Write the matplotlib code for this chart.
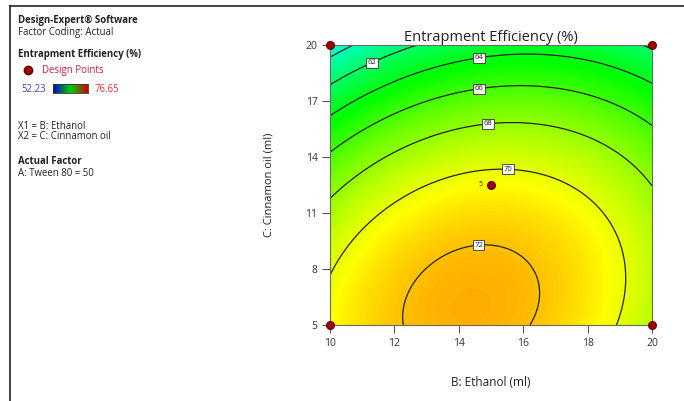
import matplotlib
matplotlib.use('Agg')
import matplotlib.pyplot as plt
import numpy as np
from matplotlib.colors import LinearSegmentedColormap
from matplotlib.lines import Line2D

plt.rcParams['font.family'] = ['Open Sans', 'DejaVu Sans']

W, H = 684, 401

# Quadratic model, coded factors X = (ethanol - 15) / 5, Y = (oil - 12.5) / 7.5
B0 = 70.54
B_X = 0.25
B_Y = -4.58
B_XY = 1.10
B_XX = -2.81
B_YY = -2.75

ETHANOL_RANGE = [10, 20]
OIL_RANGE = [5, 20]
X_TICKS = [10, 12, 14, 16, 18, 20]
Y_TICKS = [5, 8, 11, 14, 17, 20]
LEVELS = [60, 62, 64, 66, 68, 70, 72]
LABEL_POS = [(11.24, 19.3), (14.6, 19.57), (14.6, 17.96), (14.9, 16.04), (15.53, 13.63), (14.6, 9.55)]

EE_MIN, EE_MAX = 52.23, 76.65

pts_x = [10, 10, 20, 20, 15]
pts_y = [5, 20, 5, 20, 12.5]
CENTER_REPS = 5

cmap = LinearSegmentedColormap.from_list(
    'de', [(0, '#0000ff'), (0.25, '#00ffff'), (0.5, '#00ff00'), (0.75, '#ffff00'), (1, '#ff0000')])


def model(x, y):
    X = (x - 15) / 5
    Y = (y - 12.5) / 7.5
    return B0 + B_X * X + B_Y * Y + B_XY * X * Y + B_XX * X ** 2 + B_YY * Y ** 2


def fx(px):
    return px / W


def fy(py):
    return 1 - py / H


fig = plt.figure(figsize=(W / 100, H / 100), dpi=100)

ax = fig.add_axes([fx(330), fy(325), (652 - 330) / W, (325 - 45) / H])
xs = np.linspace(*ETHANOL_RANGE, 300)
ys = np.linspace(*OIL_RANGE, 300)
gx, gy = np.meshgrid(xs, ys)
z = model(gx, gy)

ax.pcolormesh(gx, gy, z, cmap=cmap, vmin=EE_MIN, vmax=EE_MAX, shading='gouraud')
cs = ax.contour(gx, gy, z, levels=LEVELS, colors='#222222', linewidths=0.9)
lbls = ax.clabel(cs, manual=LABEL_POS, inline=False, fontsize=5.5, fmt='%d', colors='#222222')
for t in lbls:
    t.set_bbox(dict(boxstyle='square,pad=0.2', fc='white', ec='#333333', lw=0.6))
    t.set_rotation(0)

ax.plot(pts_x, pts_y, 'o', ms=5.5, color='#a00000', mec='#700000', clip_on=False, zorder=5)
ax.text(pts_x[-1] - 0.25, pts_y[-1], str(CENTER_REPS), fontsize=5, ha='right', va='center', color='#333333')

ax.set_xlim(ETHANOL_RANGE)
ax.set_ylim(OIL_RANGE)
ax.set_xticks(X_TICKS)
ax.set_yticks(Y_TICKS)
ax.tick_params(length=6, width=0.8, color='#555555', labelsize=7.5, labelcolor='#333333', pad=3)
for s in ax.spines.values():
    s.set_color('#6a6a6a')
    s.set_linewidth(0.8)

ax.set_title('Entrapment Efficiency (%)', fontsize=10.5, color='#222222', pad=3)
ax.set_xlabel('B: Ethanol (ml)', fontsize=8.5, color='#222222', labelpad=20)
ax.set_ylabel('C: Cinnamon oil (ml)', fontsize=8, color='#222222', labelpad=22)

# frame lines
fig.add_artist(Line2D([fx(10), fx(10)], [fy(6), 0], color='#222222', lw=1.2))
fig.add_artist(Line2D([fx(10), 1], [fy(6), fy(6)], color='#222222', lw=1.2))

# side panel
FS = 6.9
txt = dict(fontsize=FS, color='#222222', va='center', ha='left')
fig.text(fx(18), fy(20), 'Design-Expert® Software', fontweight='bold', **txt)
fig.text(fx(18), fy(32), 'Factor Coding: Actual', **txt)
fig.text(fx(18), fy(54), 'Entrapment Efficiency (%)', fontweight='bold', **txt)
fig.add_artist(Line2D([fx(28)], [fy(70)], marker='o', ms=6, color='#a00000', mec='#600000'))
fig.text(fx(42), fy(70), 'Design Points', fontsize=FS, color='#c0203a', va='center')
fig.text(fx(21), fy(89), f'{EE_MIN:.2f}', fontsize=FS, color='#4040c0', va='center')
fig.text(fx(95), fy(89), f'{EE_MAX:.2f}', fontsize=FS, color='#e03040', va='center')
cax = fig.add_axes([fx(53), fy(93), 35 / W, 9 / H])
cax.imshow(np.linspace(0, 1, 100)[None, :], aspect='auto',
           cmap=LinearSegmentedColormap.from_list('bar', ['#0000d0', '#00d000', '#d00000']))
cax.set_xticks([])
cax.set_yticks([])
for s in cax.spines.values():
    s.set_color('#333333')
    s.set_linewidth(0.6)
fig.text(fx(18), fy(127), 'X1 = B: Ethanol', **txt)
fig.text(fx(18), fy(137), 'X2 = C: Cinnamon oil', **txt)
fig.text(fx(18), fy(161), 'Actual Factor', fontweight='bold', **txt)
fig.text(fx(18), fy(173), 'A: Tween 80 = 50', **txt)

fig.savefig('out.png', dpi=100)
